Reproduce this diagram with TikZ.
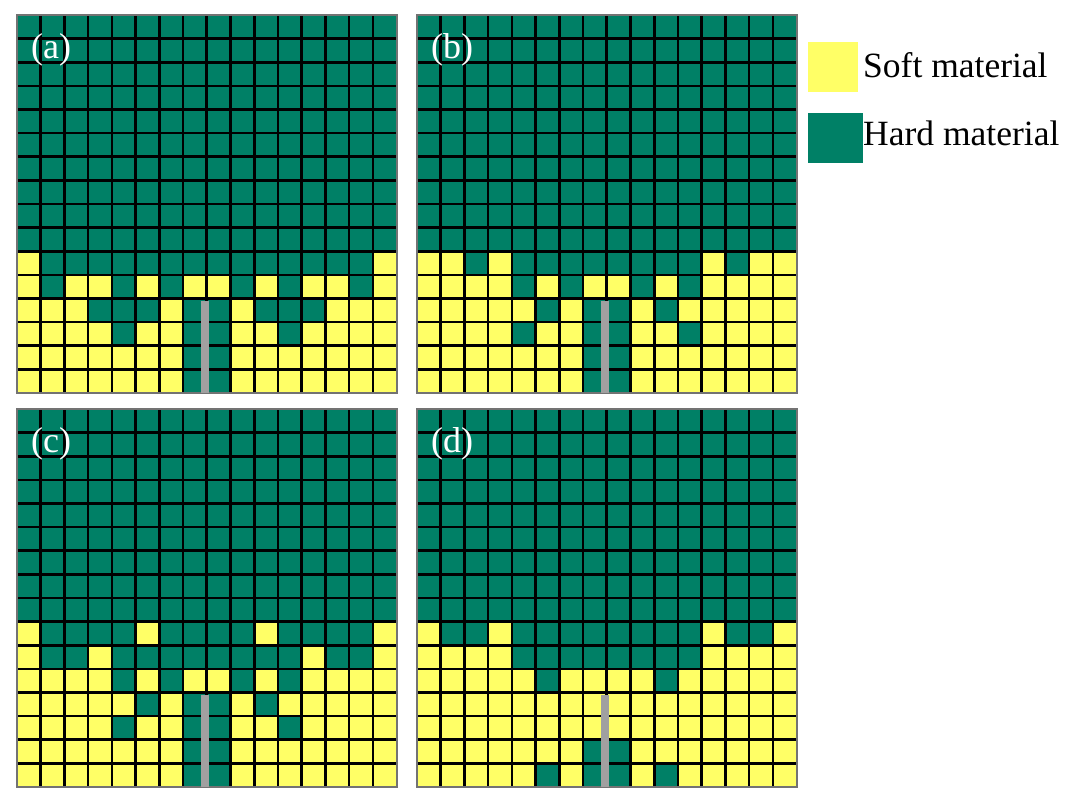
\documentclass[tikz,border=0pt]{standalone}
\usepackage{fontspec}
\setmainfont{Liberation Serif}
\definecolor{soft}{RGB}{255,255,102}
\definecolor{hard}{RGB}{0,128,102}
\definecolor{barc}{RGB}{160,160,160}
\def\cw{23.72}
\def\ch{23.625}
\def\PW{379.5}
\def\PH{378}
\tikzset{
  gridline/.style={black, line width=2.6pt},
  border/.style={black!55, line width=2pt},
  lab/.style={text=white, font=\fontsize{36}{40}\selectfont, inner sep=0pt, anchor=base west},
  legtext/.style={text=black, font=\fontsize{35.5}{40}\selectfont, inner sep=0pt, anchor=base west},
}
\newcommand\gridpanel[5]{%
  \begin{scope}[shift={(#1,#2)}]
    \fill[hard] (0,0) rectangle (\PW,\PH);
    \foreach \r/\cs in {#3} {
      \foreach \c in \cs {
        \fill[soft] ({(\c-1)*\cw},{(16-\r)*\ch}) rectangle ++(\cw,\ch);
      }
    }
    \foreach \i in {1,...,15} {
      \draw[gridline] ({\i*\cw},0) -- ({\i*\cw},\PH);
      \draw[gridline] (0,{\i*\ch}) -- (\PW,{\i*\ch});
    }
    \draw[border] (0,0) rectangle (\PW,\PH);
    \fill[barc] (184,286) rectangle (192,\PH);
    \node[lab] (#4) at (14,43) {#5};
  \end{scope}
}
\begin{document}
\begin{tikzpicture}[x=1pt,y=-1pt]
\useasboundingbox (0,0) rectangle (1076,803);
\fill[white] (0,0) rectangle (1076,803);

\gridpanel{17}{15}{6/{1,16},5/{1,3,4,6,8,9,11,13,14,16},4/{1,2,3,7,10,14,15,16},3/{1,2,3,4,6,7,10,11,13,14,15,16},2/{1,2,3,4,5,6,7,10,11,12,13,14,15,16},1/{1,2,3,4,5,6,7,10,11,12,13,14,15,16}}{pa}{(a)}

\gridpanel{417}{15}{6/{1,2,4,13,15,16},5/{1,2,3,4,6,8,9,11,13,14,15,16},4/{1,2,3,4,5,7,10,12,13,14,15,16},3/{1,2,3,4,6,7,10,11,13,14,15,16},2/{1,2,3,4,5,6,7,10,11,12,13,14,15,16},1/{1,2,3,4,5,6,7,10,11,12,13,14,15,16}}{pb}{(b)}

\gridpanel{17}{409}{7/{1,6,11,16},6/{1,4,13,16},5/{1,2,3,4,6,8,9,11,13,14,15,16},4/{1,2,3,4,5,7,10,12,13,14,15,16},3/{1,2,3,4,6,7,10,11,13,14,15,16},2/{1,2,3,4,5,6,7,10,11,12,13,14,15,16},1/{1,2,3,4,5,6,7,10,11,12,13,14,15,16}}{pc}{(c)}

\gridpanel{417}{409}{7/{1,4,13,16},6/{1,2,3,4,13,14,15,16},5/{1,2,3,4,5,7,8,9,10,12,13,14,15,16},4/{1,2,3,4,5,6,7,8,9,10,11,12,13,14,15,16},3/{1,2,3,4,5,6,7,8,9,10,11,12,13,14,15,16},2/{1,2,3,4,5,6,7,10,11,12,13,14,15,16},1/{1,2,3,4,5,7,10,12,13,14,15,16}}{pd}{(d)}

\fill[soft] (808,42) rectangle (858,92);
\fill[hard] (808,113) rectangle (863,163);
\node[legtext] (soft) at (863,77) {Soft material};
\node[legtext] (hard) at (863,145) {Hard material};
\end{tikzpicture}
\end{document}
